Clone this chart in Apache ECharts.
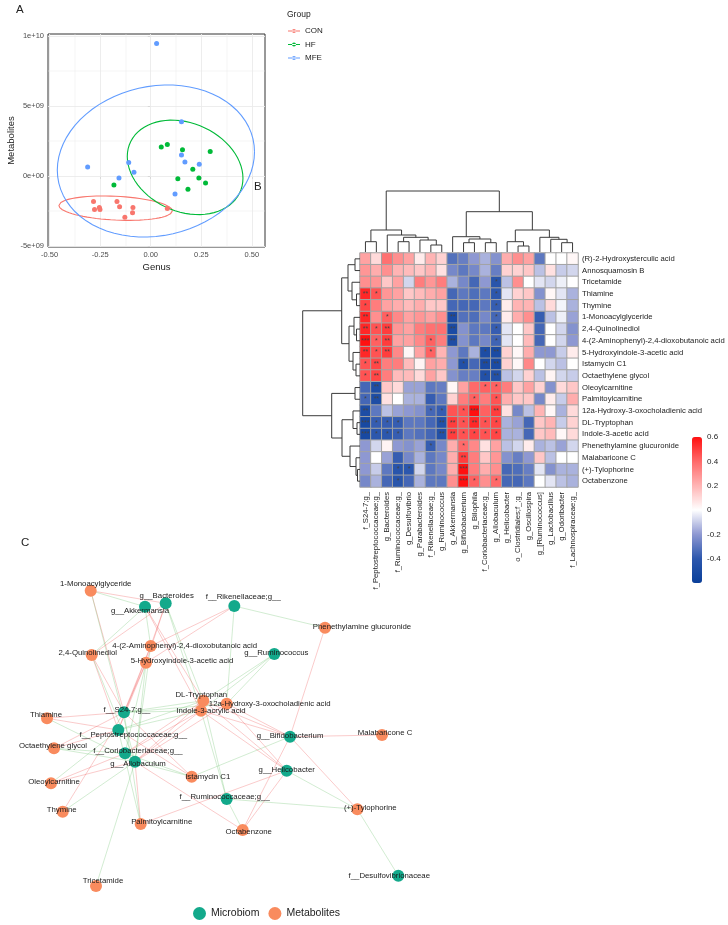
<!DOCTYPE html>
<html><head><meta charset="utf-8">
<script src="https://cdn.jsdelivr.net/npm/echarts@6/dist/echarts.min.js"></script>
<style>html,body{margin:0;padding:0;background:#fff}#c{width:728px;height:925px}</style>
</head><body><div id="c"></div>
<script>
// ---------------- Panel A data ----------------
const groupNames = ['CON', 'HF', 'MFE'];
const conGenus = [-0.283, -0.278, -0.254, -0.251, -0.167, -0.154, -0.128, -0.088, -0.090, 0.082];
const conMetab = [-1.83e9, -2.40e9, -2.26e9, -2.40e9, -1.83e9, -2.19e9, -2.95e9, -2.26e9, -2.62e9, -2.33e9];
const hfGenus = [-0.182, 0.052, 0.082, 0.157, 0.294, 0.208, 0.134, 0.238, 0.271, 0.184];
const hfMetab = [-0.64e9, 2.07e9, 2.25e9, 1.86e9, 1.74e9, 0.48e9, -0.21e9, -0.14e9, -0.50e9, -0.95e9];
const mfeGenus = [0.029, 0.152, 0.152, 0.169, 0.240, -0.312, -0.109, -0.083, -0.157, 0.120];
const mfeMetab = [9.44e9, 3.86e9, 1.50e9, 1.00e9, 0.84e9, 0.64e9, 0.96e9, 0.26e9, -0.14e9, -1.29e9];
// 95% ellipses: centre genus, centre metabolites, half-range genus, half-range metabolites, correlation
const ellipseCenterX = [-0.1735, 0.170, 0.0255];
const ellipseCenterY = [-2.30e9, 0.61e9, 1.065e9];
const ellipseHalfX = [0.2805, 0.286, 0.4875];
const ellipseHalfY = [0.87e9, 3.37e9, 5.425e9];
const ellipseRho = [-0.22, -0.23, 0.12];
const xTickVals = [-0.5, -0.25, 0, 0.25, 0.5];
const xTickText = ['-0.50', '-0.25', '0.00', '0.25', '0.50'];
const xMinorVals = [-0.375, -0.125, 0.125, 0.375];
const yTickVals = [-5e9, 0, 5e9, 1e10];
const yTickText = ['-5e+09', '0e+00', '5e+09', '1e+10'];
const yMinorVals = [-2.5e9, 2.5e9, 7.5e9];

// ---------------- Panel B data ----------------
const rowNames = ['(R)-2-Hydroxysterculic acid', 'Annosquamosin B', 'Tricetamide', 'Thiamine', 'Thymine',
  '1-Monoacylglyceride', '2,4-Quinolinediol', '4-(2-Aminophenyl)-2,4-dioxobutanoic acid',
  '5-Hydroxyindole-3-acetic acid', 'Istamycin C1', 'Octaethylene glycol', 'Oleoylcarnitine',
  'Palmitoylcarnitine', '12a-Hydroxy-3-oxocholadienic acid', 'DL-Tryptophan', 'Indole-3-acetic acid',
  'Phenethylamine glucuronide', 'Malabaricone C', '(+)-Tylophorine', 'Octabenzone'];
const colNames = ['f_S24-7;g_', 'f_Peptostreptococcaceae;g_', 'g_Bacteroides', 'f_Ruminococcaceae;g_',
  'g_Desulfovibrio', 'g_Parabacteroides', 'f_Rikenellaceae;g_', 'g_Ruminococcus', 'g_Akkermansia',
  'g_Bifidobacterium', 'g_Bilophila', 'f_Coriobacteriaceae;g_', 'g_Allobaculum', 'g_Helicobacter',
  'o_Clostridiales;f_;g_', 'g_Oscillospira', 'g_[Ruminococcus]', 'g_Lactobacillus', 'g_Odoribacter',
  'f_Lachnospiraceae;g_'];
const corr = [
  [0.25, 0.10, 0.38, 0.30, 0.25, 0.05, 0.20, 0.12, -0.32, -0.28, -0.20, -0.15, -0.22, 0.22, 0.30, 0.25, -0.30, 0.00, 0.00, 0.02],
  [0.28, 0.22, 0.30, 0.20, 0.18, 0.15, 0.20, 0.08, -0.25, -0.30, -0.25, -0.15, -0.28, 0.12, 0.12, 0.15, -0.12, 0.08, -0.10, -0.08],
  [0.30, 0.28, 0.15, 0.25, -0.08, 0.35, 0.28, 0.35, -0.15, -0.25, -0.35, -0.20, -0.42, -0.12, 0.30, 0.00, -0.05, -0.08, -0.03, 0.00],
  [0.55, 0.45, 0.28, 0.25, 0.15, 0.18, 0.22, 0.25, -0.35, -0.30, -0.33, -0.30, -0.40, -0.05, 0.12, 0.15, -0.22, 0.02, -0.05, -0.15],
  [0.48, 0.35, 0.25, 0.22, 0.18, 0.22, 0.15, 0.15, -0.35, -0.35, -0.35, -0.30, -0.38, 0.05, 0.20, 0.20, -0.12, 0.10, -0.02, -0.15],
  [0.55, 0.30, 0.42, 0.32, 0.25, 0.28, 0.25, 0.30, -0.50, -0.32, -0.33, -0.25, -0.35, 0.05, 0.22, 0.30, -0.38, -0.12, -0.03, -0.18],
  [0.55, 0.45, 0.50, 0.28, 0.25, 0.35, 0.38, 0.38, -0.50, -0.22, -0.30, -0.30, -0.38, -0.05, 0.00, 0.15, -0.35, 0.00, -0.08, -0.22],
  [0.60, 0.42, 0.50, 0.25, 0.25, 0.32, 0.42, 0.35, -0.48, -0.22, -0.30, -0.25, -0.36, -0.05, 0.00, 0.18, -0.35, 0.00, -0.08, -0.20],
  [0.55, 0.45, 0.50, 0.32, 0.02, 0.25, 0.42, 0.20, -0.20, -0.30, -0.15, -0.48, -0.50, 0.12, 0.02, 0.22, -0.20, -0.20, -0.10, 0.05],
  [0.45, 0.48, 0.35, 0.35, 0.18, 0.03, 0.25, 0.22, -0.20, -0.45, -0.35, -0.50, -0.50, 0.12, 0.02, 0.32, 0.00, -0.08, -0.12, 0.00],
  [0.45, 0.48, 0.35, 0.18, 0.18, 0.10, 0.25, 0.15, -0.22, -0.28, -0.28, -0.45, -0.45, -0.12, -0.08, 0.12, -0.12, 0.03, -0.08, -0.10],
  [-0.35, -0.48, 0.15, 0.10, -0.18, -0.18, -0.30, -0.28, 0.02, 0.25, 0.40, 0.42, 0.42, 0.35, 0.15, 0.25, 0.12, -0.22, 0.10, 0.15],
  [-0.35, -0.48, 0.08, 0.00, -0.15, -0.15, -0.38, -0.30, 0.12, 0.35, 0.42, 0.35, 0.45, 0.22, 0.15, 0.15, -0.25, 0.05, -0.10, 0.22],
  [-0.48, -0.30, -0.12, -0.18, -0.20, -0.22, -0.35, -0.38, 0.45, 0.45, 0.60, 0.42, 0.50, 0.08, -0.25, -0.12, 0.20, 0.02, -0.15, 0.10],
  [-0.52, -0.38, -0.38, -0.38, -0.30, -0.30, -0.35, -0.45, 0.50, 0.45, 0.55, 0.45, 0.48, -0.15, -0.18, -0.35, 0.15, 0.20, -0.10, 0.12],
  [-0.52, -0.40, -0.40, -0.38, -0.30, -0.32, -0.35, -0.45, 0.50, 0.45, 0.48, 0.45, 0.48, -0.15, -0.15, -0.35, 0.15, 0.18, 0.02, 0.10],
  [-0.20, -0.08, 0.03, -0.20, -0.22, -0.18, -0.38, -0.25, 0.22, 0.40, 0.32, 0.08, 0.25, -0.12, -0.08, 0.05, -0.15, -0.12, -0.18, -0.08],
  [-0.20, 0.00, -0.18, -0.38, -0.25, -0.15, -0.30, -0.25, 0.22, 0.50, 0.35, 0.15, 0.28, -0.22, -0.28, -0.20, 0.15, -0.12, 0.00, 0.00],
  [-0.20, -0.10, -0.30, -0.42, -0.40, -0.08, -0.30, -0.25, 0.22, 0.60, 0.35, 0.22, 0.30, -0.35, -0.33, -0.28, -0.05, -0.22, -0.15, -0.15],
  [-0.25, -0.15, -0.35, -0.42, -0.35, -0.15, -0.30, -0.30, 0.30, 0.60, 0.42, 0.30, 0.40, -0.35, -0.35, -0.30, 0.00, -0.05, -0.12, -0.15]
];
// significance marks: [row, col, text]
const starMarks = [
  [2, 12, '*'],
  [3, 0, '**'], [3, 1, '*'], [3, 12, '*'],
  [4, 0, '*'], [4, 12, '*'],
  [5, 0, '**'], [5, 2, '*'], [5, 8, '**'], [5, 12, '*'],
  [6, 0, '**'], [6, 1, '*'], [6, 2, '**'], [6, 8, '**'], [6, 12, '*'],
  [7, 0, '***'], [7, 1, '*'], [7, 2, '**'], [7, 6, '*'], [7, 8, '**'], [7, 12, '*'],
  [8, 0, '**'], [8, 1, '*'], [8, 2, '**'], [8, 6, '*'], [8, 11, '*'], [8, 12, '**'],
  [9, 0, '*'], [9, 1, '**'], [9, 9, '*'], [9, 11, '**'], [9, 12, '**'],
  [10, 0, '*'], [10, 1, '**'], [10, 11, '*'], [10, 12, '**'],
  [11, 1, '**'], [11, 11, '*'], [11, 12, '*'],
  [12, 0, '*'], [12, 1, '**'], [12, 10, '*'], [12, 12, '*'],
  [13, 0, '**'], [13, 6, '*'], [13, 7, '*'], [13, 9, '*'], [13, 10, '***'], [13, 12, '**'],
  [14, 0, '***'], [14, 1, '*'], [14, 2, '*'], [14, 3, '*'], [14, 7, '**'], [14, 8, '**'], [14, 9, '*'], [14, 10, '**'], [14, 11, '*'], [14, 12, '*'],
  [15, 0, '***'], [15, 1, '*'], [15, 2, '*'], [15, 3, '*'], [15, 7, '**'], [15, 8, '**'], [15, 9, '*'], [15, 10, '*'], [15, 11, '*'], [15, 12, '*'],
  [16, 6, '*'], [16, 9, '*'],
  [17, 9, '**'],
  [18, 3, '*'], [18, 4, '*'], [18, 9, '***'],
  [19, 3, '*'], [19, 9, '***'], [19, 10, '*'], [19, 12, '*']
];
// dendrograms: [mergeHeight, left, right]; leaves are indices
const colTree = [61,
  [22, [10.3, 0, 1], [17, 2, [14.7, [10.3, 3, 4], [12, 5, [7, 6, 7]]]]],
  [40.3, [15.3, 8, [13, [9.3, 9, 10], [9.3, 11, 12]]],
         [22, [10.3, 13, [6, 14, 15]], [14.7, 16, [12.7, 17, [9.3, 18, 19]]]]]];
const rowTree = [57.3,
  [18.3, [12, [5, 0, 1], [8, 2, [3.5, 3, 4]]], [11, [6, 5, [3.5, 6, 7]], [7, 8, [4, 9, 10]]]],
  [28.3, [5, 11, 12], [18, [7, 13, [3, 14, 15]], [10, 16, [4, 17, [2.5, 18, 19]]]]]];
const legendTicks = [-0.4, -0.2, 0, 0.2, 0.4, 0.6];

// ---------------- Panel C data ----------------
const microbes = ['g__Bacteroides', 'g__Akkermansia', 'f__Rikenellaceae;g__', 'g__Ruminococcus', 'f__S24-7;g__',
  'f__Peptostreptococcaceae;g__', 'f__Coriobacteriaceae;g__', 'g__Allobaculum', 'g__Bifidobacterium',
  'g__Helicobacter', 'f__Ruminococcaceae;g__', 'f__Desulfovibrionaceae'];
const microbeX = [165.7, 145, 234.3, 274.3, 124, 118.3, 125, 135, 290, 286.7, 226.7, 398.3];
const microbeY = [63.3, 66.7, 66, 114, 172.3, 190, 213.3, 221.7, 196.7, 230.7, 259, 335.7];
const metabolites = ['1-Monoacylglyceride', '2,4-Quinolinediol', '4-(2-Aminophenyl)-2,4-dioxobutanoic acid',
  '5-Hydroxyindole-3-acetic acid', 'DL-Tryptophan', '12a-Hydroxy-3-oxocholadienic acid', 'Indole-3-acrylic acid',
  'Thiamine', 'Octaethylene glycol', 'Istamycin C1', 'Phenethylamine glucuronide', 'Malabaricone C',
  'Oleoylcarnitine', 'Thymine', 'Palmitoylcarnitine', 'Octabenzone', '(+)-Tylophorine', 'Tricetamide'];
const metabX = [90.7, 91.7, 150.7, 146, 203.3, 226.7, 201, 47, 54, 191.7, 325, 382, 51, 62.7, 140.7, 242.7, 357.3, 96];
const metabY = [50.7, 115, 106, 122.7, 160.7, 163.7, 170.7, 178.3, 208.3, 236.7, 87.7, 195, 243.3, 271.7, 284, 290, 269.3, 346];
// edges: [microbe, metabolite, sign(+1 positive / -1 negative)]
const edges = [
  ['f__S24-7;g__', 'Thiamine', 1], ['f__S24-7;g__', 'Thymine', 1], ['f__S24-7;g__', '1-Monoacylglyceride', 1],
  ['f__S24-7;g__', '2,4-Quinolinediol', 1], ['f__S24-7;g__', '4-(2-Aminophenyl)-2,4-dioxobutanoic acid', 1],
  ['f__S24-7;g__', '5-Hydroxyindole-3-acetic acid', 1], ['f__S24-7;g__', 'Istamycin C1', 1],
  ['f__S24-7;g__', 'Octaethylene glycol', 1], ['f__S24-7;g__', 'Palmitoylcarnitine', -1],
  ['f__S24-7;g__', '12a-Hydroxy-3-oxocholadienic acid', -1], ['f__S24-7;g__', 'DL-Tryptophan', -1],
  ['f__S24-7;g__', 'Indole-3-acrylic acid', -1],
  ['f__Peptostreptococcaceae;g__', 'Thiamine', 1], ['f__Peptostreptococcaceae;g__', '2,4-Quinolinediol', 1],
  ['f__Peptostreptococcaceae;g__', '4-(2-Aminophenyl)-2,4-dioxobutanoic acid', 1],
  ['f__Peptostreptococcaceae;g__', '5-Hydroxyindole-3-acetic acid', 1], ['f__Peptostreptococcaceae;g__', 'Istamycin C1', 1],
  ['f__Peptostreptococcaceae;g__', 'Octaethylene glycol', 1], ['f__Peptostreptococcaceae;g__', 'Oleoylcarnitine', -1],
  ['f__Peptostreptococcaceae;g__', 'Palmitoylcarnitine', -1], ['f__Peptostreptococcaceae;g__', 'DL-Tryptophan', -1],
  ['f__Peptostreptococcaceae;g__', 'Indole-3-acrylic acid', -1],
  ['g__Bacteroides', '1-Monoacylglyceride', 1], ['g__Bacteroides', '2,4-Quinolinediol', 1],
  ['g__Bacteroides', '4-(2-Aminophenyl)-2,4-dioxobutanoic acid', 1], ['g__Bacteroides', '5-Hydroxyindole-3-acetic acid', 1],
  ['g__Bacteroides', 'DL-Tryptophan', -1], ['g__Bacteroides', 'Indole-3-acrylic acid', -1],
  ['f__Ruminococcaceae;g__', 'DL-Tryptophan', -1], ['f__Ruminococcaceae;g__', 'Indole-3-acrylic acid', -1],
  ['f__Ruminococcaceae;g__', '(+)-Tylophorine', -1], ['f__Ruminococcaceae;g__', 'Octabenzone', -1],
  ['f__Desulfovibrionaceae', '(+)-Tylophorine', -1],
  ['f__Rikenellaceae;g__', '4-(2-Aminophenyl)-2,4-dioxobutanoic acid', 1], ['f__Rikenellaceae;g__', '5-Hydroxyindole-3-acetic acid', 1],
  ['f__Rikenellaceae;g__', '12a-Hydroxy-3-oxocholadienic acid', -1], ['f__Rikenellaceae;g__', 'Phenethylamine glucuronide', -1],
  ['g__Ruminococcus', '12a-Hydroxy-3-oxocholadienic acid', -1], ['g__Ruminococcus', 'DL-Tryptophan', -1],
  ['g__Ruminococcus', 'Indole-3-acrylic acid', -1],
  ['g__Akkermansia', '1-Monoacylglyceride', -1], ['g__Akkermansia', '2,4-Quinolinediol', -1],
  ['g__Akkermansia', '4-(2-Aminophenyl)-2,4-dioxobutanoic acid', -1], ['g__Akkermansia', 'DL-Tryptophan', 1],
  ['g__Akkermansia', 'Indole-3-acrylic acid', 1],
  ['g__Bifidobacterium', 'Istamycin C1', -1], ['g__Bifidobacterium', '12a-Hydroxy-3-oxocholadienic acid', 1],
  ['g__Bifidobacterium', 'DL-Tryptophan', 1], ['g__Bifidobacterium', 'Indole-3-acrylic acid', 1],
  ['g__Bifidobacterium', 'Phenethylamine glucuronide', 1], ['g__Bifidobacterium', 'Malabaricone C', 1],
  ['g__Bifidobacterium', '(+)-Tylophorine', 1], ['g__Bifidobacterium', 'Octabenzone', 1],
  ['g__Helicobacter', 'Palmitoylcarnitine', 1], ['g__Helicobacter', '12a-Hydroxy-3-oxocholadienic acid', 1],
  ['g__Helicobacter', 'DL-Tryptophan', 1], ['g__Helicobacter', 'Indole-3-acrylic acid', 1],
  ['g__Helicobacter', 'Octabenzone', 1], ['g__Helicobacter', '(+)-Tylophorine', -1],
  ['f__Coriobacteriaceae;g__', '5-Hydroxyindole-3-acetic acid', -1], ['f__Coriobacteriaceae;g__', 'Istamycin C1', -1],
  ['f__Coriobacteriaceae;g__', 'Octaethylene glycol', -1], ['f__Coriobacteriaceae;g__', 'Oleoylcarnitine', 1],
  ['f__Coriobacteriaceae;g__', 'DL-Tryptophan', 1], ['f__Coriobacteriaceae;g__', 'Indole-3-acrylic acid', 1],
  ['g__Allobaculum', 'Tricetamide', -1], ['g__Allobaculum', 'Thiamine', -1], ['g__Allobaculum', 'Thymine', -1],
  ['g__Allobaculum', '1-Monoacylglyceride', -1], ['g__Allobaculum', '2,4-Quinolinediol', -1],
  ['g__Allobaculum', '4-(2-Aminophenyl)-2,4-dioxobutanoic acid', -1], ['g__Allobaculum', '5-Hydroxyindole-3-acetic acid', -1],
  ['g__Allobaculum', 'Istamycin C1', -1], ['g__Allobaculum', 'Octaethylene glycol', -1],
  ['g__Allobaculum', 'Oleoylcarnitine', 1], ['g__Allobaculum', 'Palmitoylcarnitine', 1],
  ['g__Allobaculum', '12a-Hydroxy-3-oxocholadienic acid', 1], ['g__Allobaculum', 'DL-Tryptophan', 1],
  ['g__Allobaculum', 'Indole-3-acrylic acid', 1], ['g__Allobaculum', 'Octabenzone', 1]
];
const nodeTypes = ['Microbiom', 'Metabolites'];

// ---------------- styles / layout (not data) ----------------
const FONT = 'Liberation Sans, Arial, Helvetica, sans-serif';
const groupColors = ['#F8766D', '#00BA38', '#619CFF'];
const nodeColors = ['#13A98B', '#F98B5E'];
const labelNudge = {
  'g__Bacteroides': [1, -7], 'g__Akkermansia': [-5, 4], 'f__Rikenellaceae;g__': [9, -9], 'g__Ruminococcus': [2, -1],
  'f__S24-7;g__': [3, -2], 'f__Peptostreptococcaceae;g__': [15, 5], 'f__Coriobacteriaceae;g__': [13, -2],
  'g__Allobaculum': [3, 2], 'g__Bifidobacterium': [0, -1], 'g__Helicobacter': [0, -1], 'f__Ruminococcaceae;g__': [-2, -2],
  'f__Desulfovibrionaceae': [-9, 0], '1-Monoacylglyceride': [5, -7], '2,4-Quinolinediol': [-4, -2],
  '4-(2-Aminophenyl)-2,4-dioxobutanoic acid': [34, 0], '5-Hydroxyindole-3-acetic acid': [36, -2], 'DL-Tryptophan': [-2, -6],
  '12a-Hydroxy-3-oxocholadienic acid': [43, 0], 'Indole-3-acrylic acid': [10, 0], 'Thiamine': [-1, -3],
  'Octaethylene glycol': [-1, -2], 'Istamycin C1': [16, 0], 'Phenethylamine glucuronide': [37, -1], 'Malabaricone C': [3, -2],
  'Oleoylcarnitine': [3, -1], 'Thymine': [-1, -2], 'Palmitoylcarnitine': [21, -2], 'Octabenzone': [6, 2],
  '(+)-Tylophorine': [13, -1], 'Tricetamide': [7, -5]
};

// ---------------- helpers ----------------
function ellipsePath(i) {
  const pts = [];
  const r = ellipseRho[i], q = Math.sqrt(1 - r * r);
  for (let k = 0; k <= 72; k++) {
    const a = k * 2 * Math.PI / 72, c = Math.cos(a), s = Math.sin(a);
    pts.push([ellipseCenterX[i] + ellipseHalfX[i] * c, ellipseCenterY[i] + ellipseHalfY[i] * (r * c + q * s)]);
  }
  return pts;
}
function dendro(tree, swap) {
  const segs = [];
  function walk(node) {
    if (typeof node === 'number') return { c: node + 0.5, h: 0 };
    const a = walk(node[1]), b = walk(node[2]), h = node[0];
    let s = [[a.c, a.h], [a.c, h], [b.c, h], [b.c, b.h]];
    if (swap) s = s.map(p => [p[1], p[0]]);
    segs.push({ coords: s });
    return { c: (a.c + b.c) / 2, h: h };
  }
  walk(tree);
  return segs;
}
const zip = (a, b) => a.map((v, i) => [v, b[i]]);

// ---------------- Panel A series ----------------
const xRange = [-0.508, 0.565], yRange = [-5.07e9, 1.0125e10];
const gridSegs = [];
xTickVals.forEach(v => gridSegs.push({ coords: [[v, yRange[0]], [v, yRange[1]]], lineStyle: { width: 0.9 } }));
yTickVals.forEach(v => gridSegs.push({ coords: [[xRange[0], v], [xRange[1], v]], lineStyle: { width: 0.9 } }));
xMinorVals.forEach(v => gridSegs.push({ coords: [[v, yRange[0]], [v, yRange[1]]], lineStyle: { width: 0.45 } }));
yMinorVals.forEach(v => gridSegs.push({ coords: [[xRange[0], v], [xRange[1], v]], lineStyle: { width: 0.45 } }));
const groupData = [[conGenus, conMetab], [hfGenus, hfMetab], [mfeGenus, mfeMetab]];

const series = [];
series.push({ type: 'lines', coordinateSystem: 'cartesian2d', xAxisIndex: 0, yAxisIndex: 0, polyline: false,
  data: gridSegs, lineStyle: { color: '#EBEBEB', opacity: 1 }, silent: true, z: 1, animation: false });
groupNames.forEach((g, i) => {
  series.push({ name: g + ' ellipse', type: 'line', xAxisIndex: 0, yAxisIndex: 0, data: ellipsePath(i),
    showSymbol: false, smooth: false, lineStyle: { color: groupColors[i], width: 1.1 }, silent: true, z: 2, animation: false });
});
groupData.forEach((g, i) => {
  series.push({ name: groupNames[i], type: 'scatter', xAxisIndex: 0, yAxisIndex: 0, data: zip(g[0], g[1]),
    symbolSize: 5, itemStyle: { color: groupColors[i], opacity: 1 }, z: 3, animation: false });
});

// ---------------- Panel B series ----------------
const starLookup = {};
starMarks.forEach(s => { starLookup[s[0] + '_' + s[1]] = s[2]; });
const heatData = [];
corr.forEach((row, r) => row.forEach((v, c) => heatData.push([c, r, v])));
const heatIndex = series.length;
series.push({ type: 'heatmap', xAxisIndex: 1, yAxisIndex: 1, data: heatData,
  itemStyle: { borderColor: '#A3A3A3', borderWidth: 1 },
  label: { show: true, fontSize: 7, color: '#444', fontFamily: FONT, formatter: p => starLookup[p.data[1] + '_' + p.data[0]] || '' },
  emphasis: { disabled: true }, animation: false, silent: true });
series.push({ type: 'lines', coordinateSystem: 'cartesian2d', xAxisIndex: 2, yAxisIndex: 2, polyline: true,
  data: dendro(colTree, false), lineStyle: { color: '#3a3a3a', width: 1, opacity: 1 }, silent: true, animation: false });
series.push({ type: 'lines', coordinateSystem: 'cartesian2d', xAxisIndex: 3, yAxisIndex: 3, polyline: true,
  data: dendro(rowTree, true), lineStyle: { color: '#3a3a3a', width: 1, opacity: 1 }, silent: true, animation: false });

// ---------------- Panel C series ----------------
const nodes = [];
microbes.forEach((m, i) => nodes.push({ name: m, value: [microbeX[i], microbeY[i]], category: 0,
  label: { offset: labelNudge[m] || [0, 0] } }));
metabolites.forEach((m, i) => nodes.push({ name: m, value: [metabX[i], metabY[i]], category: 1,
  label: { offset: labelNudge[m] || [0, 0] } }));
const links = edges.map(e => ({ source: e[0], target: e[1],
  lineStyle: { color: e[2] > 0 ? '#EE5A5A' : '#5DBA5D', opacity: e[2] > 0 ? 0.45 : 0.4 } }));
series.push({ type: 'graph', coordinateSystem: 'cartesian2d', xAxisIndex: 5, yAxisIndex: 5, layout: 'none',
  data: nodes, links: links, symbolSize: 12,
  categories: nodeTypes.map((n, i) => ({ name: n, itemStyle: { color: nodeColors[i] } })),
  label: { show: true, position: 'inside', fontSize: 7.8, color: '#1a1a1a', fontFamily: FONT },
  lineStyle: { width: 0.7 }, emphasis: { disabled: true }, silent: true, animation: false });

// ---------------- axes ----------------
const hidden = { show: false };
const titleStyle = { fontSize: 11.5, fontWeight: 'normal', color: '#222', fontFamily: FONT };
const option = {
  animation: false,
  backgroundColor: '#fff',
  textStyle: { fontFamily: FONT },
  title: [
    { text: 'A', left: 16, top: 4, padding: 0, textStyle: titleStyle },
    { text: 'Group', left: 287, top: 10, padding: 0, textStyle: { fontSize: 8.5, fontWeight: 'normal', color: '#222', fontFamily: FONT } },
    { text: 'B', left: 254, top: 181, padding: 0, textStyle: titleStyle },
    { text: 'C', left: 21, top: 537, padding: 0, textStyle: titleStyle }
  ],
  legend: [
    { data: groupNames, orient: 'vertical', left: 288, top: 27, padding: 0, itemWidth: 12, itemHeight: 9, itemGap: 5.5,
      icon: 'path://M0,4.1H12V4.9H0Z M4,4.5a2,2 0 1,0 4,0a2,2 0 1,0 -4,0Z',
      textStyle: { fontSize: 8, color: '#222', fontFamily: FONT }, selectedMode: false },
    { data: nodeTypes, orient: 'horizontal', left: 193, top: 907, padding: 0, itemWidth: 13, itemHeight: 13, itemGap: 9,
      icon: 'circle', textStyle: { fontSize: 10.5, color: '#222', fontFamily: FONT }, selectedMode: false }
  ],
  grid: [
    { left: 48, top: 34, width: 217, height: 213, show: true, borderColor: '#333', borderWidth: 1, backgroundColor: '#fff', outerBoundsMode: 'none' },
    { left: 360, top: 253, width: 218, height: 234, outerBoundsMode: 'none' },
    { left: 360, top: 190, width: 218, height: 62, outerBoundsMode: 'none' },
    { left: 300, top: 253, width: 60, height: 234, outerBoundsMode: 'none' },
    { left: 692, top: 437, width: 10, height: 146, outerBoundsMode: 'none' },
    { left: 0, top: 540, width: 480, height: 385, outerBoundsMode: 'none' }
  ],
  xAxis: [
    { type: 'value', gridIndex: 0, min: xRange[0], max: xRange[1], name: 'Genus', nameLocation: 'middle', nameGap: 15,
      nameTextStyle: { fontSize: 9.5, color: '#222' }, axisLine: hidden, splitLine: hidden,
      axisTick: { show: true, customValues: xTickVals, length: 3, lineStyle: { color: '#333' } },
      axisLabel: { customValues: xTickVals, fontSize: 7.5, color: '#4D4D4D', margin: 4,
        formatter: v => xTickText[xTickVals.findIndex(t => Math.abs(t - v) < 1e-9)] } },
    { type: 'category', gridIndex: 1, data: colNames, position: 'bottom', axisLine: hidden, axisTick: hidden,
      axisLabel: { rotate: 90, fontSize: 7.7, color: '#222', margin: 5, interval: 0 } },
    { type: 'value', gridIndex: 2, min: 0, max: 20, show: false },
    { type: 'value', gridIndex: 3, min: 0, max: 60, inverse: true, show: false },
    { type: 'category', gridIndex: 4, data: ['c'], show: false },
    { type: 'value', gridIndex: 5, min: 0, max: 480, show: false }
  ],
  yAxis: [
    { type: 'value', gridIndex: 0, min: yRange[0], max: yRange[1], name: 'Metabolites', nameLocation: 'middle', nameGap: 31,
      nameTextStyle: { fontSize: 9.5, color: '#222' }, axisLine: hidden, splitLine: hidden,
      axisTick: { show: true, customValues: yTickVals, length: 3, lineStyle: { color: '#333' } },
      axisLabel: { customValues: yTickVals, fontSize: 7.5, color: '#4D4D4D', margin: 4,
        formatter: v => yTickText[yTickVals.findIndex(t => Math.abs(t - v) < 1)] } },
    { type: 'category', gridIndex: 1, data: rowNames, inverse: true, position: 'right', axisLine: hidden, axisTick: hidden,
      axisLabel: { fontSize: 7.7, color: '#222', margin: 4, interval: 0 } },
    { type: 'value', gridIndex: 2, min: 0, max: 62, show: false },
    { type: 'value', gridIndex: 3, min: 0, max: 20, inverse: true, show: false },
    { type: 'value', gridIndex: 4, min: -0.6, max: 0.6, position: 'right', axisLine: hidden, axisTick: hidden, splitLine: hidden,
      axisLabel: { customValues: legendTicks, fontSize: 8, color: '#222', margin: 5,
        formatter: v => String(Math.round(v * 10) / 10) } },
    { type: 'value', gridIndex: 5, min: 0, max: 385, inverse: true, show: false }
  ],
  visualMap: {
    type: 'continuous', min: -0.6, max: 0.6, seriesIndex: heatIndex, left: 692, top: 437, padding: 0,
    itemWidth: 10, itemHeight: 146, calculable: false, hoverLink: false, text: ['', ''],
    inRange: { color: ['#0A3F9A', '#2C57AD', '#8E98D2', '#FFFFFF', '#FFB4B4', '#FF6A6A', '#FF1010'] }
  },
  series: series
};
const chart = echarts.init(document.getElementById('c'), null, { renderer: 'canvas' });
chart.setOption(option);
</script></body></html>
